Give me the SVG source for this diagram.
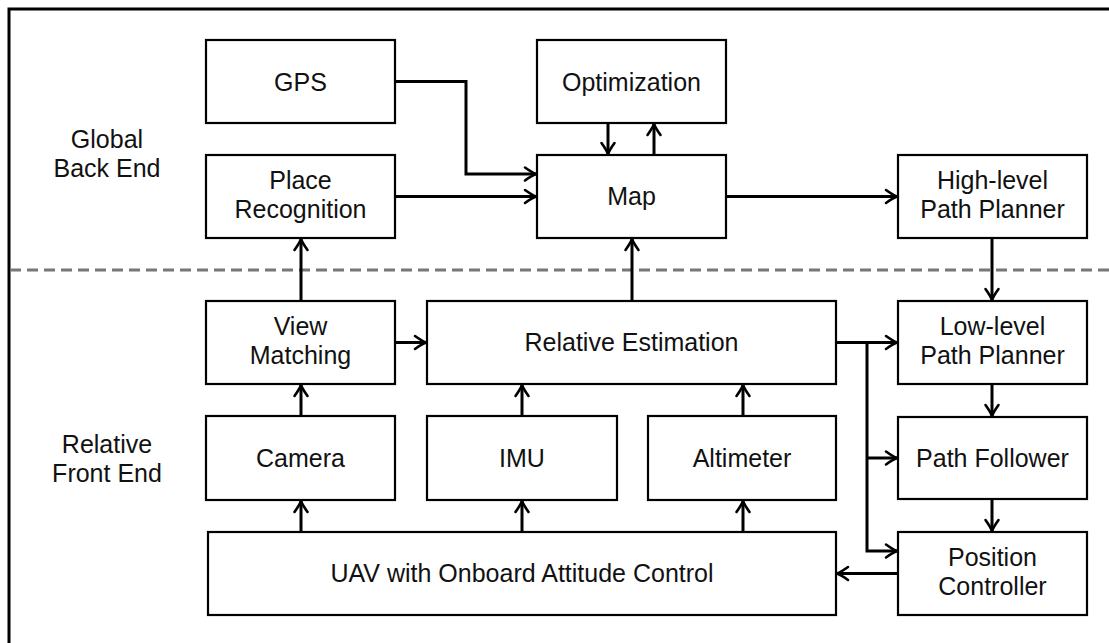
<svg xmlns="http://www.w3.org/2000/svg" width="1109" height="643" viewBox="0 0 1109 643">
<defs>
<marker id="ah" markerUnits="userSpaceOnUse" viewBox="-14 -9 16 18" refX="0" refY="0" markerWidth="16" markerHeight="18" orient="auto" overflow="visible">
<path d="M -11 -6.5 Q -4 -1.5 0 0 Q -4 1.5 -11 6.5" fill="none" stroke="#000" stroke-width="2.6" stroke-linecap="round" stroke-linejoin="round"/>
</marker>
<style>
.box{fill:#fff;stroke:#000;stroke-width:2.2}
.t{font-family:"Liberation Sans",Arial,sans-serif;font-size:25px;fill:#111;text-anchor:middle}
.c{fill:none;stroke:#000;stroke-width:3;marker-end:url(#ah)}
</style>
</defs>
<rect x="0" y="0" width="1109" height="643" fill="#fff"/>
<rect x="9" y="9" width="1200" height="700" fill="none" stroke="#000" stroke-width="3"/>
<line x1="10" y1="270" x2="1109" y2="270" stroke="#777" stroke-width="3" stroke-dasharray="11 6"/>
<g id="labels">
<text class="t" x="107" y="148">Global</text>
<text class="t" x="107" y="177">Back End</text>
<text class="t" x="107" y="453">Relative</text>
<text class="t" x="107" y="482">Front End</text>
</g>
<g id="connectors">
<path class="c" d="M395 81.5 H466 V174 H536"/>
<path class="c" d="M395 196.5 H536"/>
<path class="c" d="M608 123 V154"/>
<path class="c" d="M654 155 V124"/>
<path class="c" d="M726 196.5 H897"/>
<path class="c" d="M992 238 V300"/>
<path class="c" d="M632 301 V239"/>
<path class="c" d="M301 301 V239"/>
<path class="c" d="M395 342.5 H426"/>
<path class="c" d="M836 342.5 H897"/>
<path class="c" d="M867 342.5 V551 H897"/>
<path class="c" d="M867 458 H897"/>
<path class="c" d="M992 384 V416"/>
<path class="c" d="M992 499 V531"/>
<path class="c" d="M898 573.5 H837"/>
<path class="c" d="M301 416 V385"/>
<path class="c" d="M301 532 V501"/>
<path class="c" d="M522 416 V385"/>
<path class="c" d="M522 532 V501"/>
<path class="c" d="M743 416 V385"/>
<path class="c" d="M743 532 V501"/>
</g>
<g id="gps"><rect class="box" x="206" y="40" width="189" height="83"/><text class="t" x="300.5" y="90.5">GPS</text></g>
<g id="optimization"><rect class="box" x="537" y="40" width="189" height="83"/><text class="t" x="631.5" y="90.5">Optimization</text></g>
<g id="place-recognition"><rect class="box" x="206" y="155" width="189" height="83"/><text class="t" x="300.5" y="189">Place</text><text class="t" x="300.5" y="218">Recognition</text></g>
<g id="map"><rect class="box" x="537" y="155" width="189" height="83"/><text class="t" x="631.5" y="205">Map</text></g>
<g id="high-level"><rect class="box" x="898" y="155" width="189" height="83"/><text class="t" x="992.5" y="189">High-level</text><text class="t" x="992.5" y="218">Path Planner</text></g>
<g id="view-matching"><rect class="box" x="206" y="301" width="189" height="83"/><text class="t" x="300.5" y="335">View</text><text class="t" x="300.5" y="364">Matching</text></g>
<g id="relative-estimation"><rect class="box" x="427" y="301" width="409" height="83"/><text class="t" x="631.5" y="351">Relative Estimation</text></g>
<g id="low-level"><rect class="box" x="898" y="301" width="189" height="83"/><text class="t" x="992.5" y="335">Low-level</text><text class="t" x="992.5" y="364">Path Planner</text></g>
<g id="camera"><rect class="box" x="206" y="416" width="189" height="84"/><text class="t" x="300.5" y="467">Camera</text></g>
<g id="imu"><rect class="box" x="427" y="416" width="190" height="84"/><text class="t" x="522" y="467">IMU</text></g>
<g id="altimeter"><rect class="box" x="648" y="416" width="188" height="84"/><text class="t" x="742" y="467">Altimeter</text></g>
<g id="path-follower"><rect class="box" x="898" y="417" width="189" height="82"/><text class="t" x="992.5" y="467">Path Follower</text></g>
<g id="uav"><rect class="box" x="208" y="532" width="628" height="83"/><text class="t" x="522" y="582">UAV with Onboard Attitude Control</text></g>
<g id="position-controller"><rect class="box" x="898" y="532" width="189" height="83"/><text class="t" x="992.5" y="566">Position</text><text class="t" x="992.5" y="595">Controller</text></g>
</svg>
